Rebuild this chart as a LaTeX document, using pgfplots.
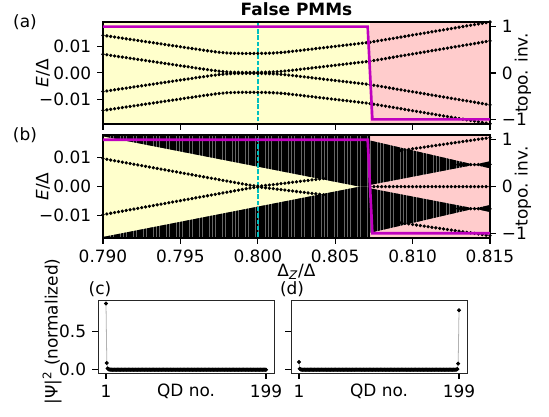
\documentclass[border=0pt]{standalone}
\usepackage{pgfplots}
\pgfplotsset{compat=1.18}
\usepackage{pgfplotstable}
\usepackage{fontspec}
\setmainfont{DejaVu Sans}
\usetikzlibrary{patterns.meta}
\definecolor{ybg}{RGB}{255,255,204}
\definecolor{pbg}{RGB}{255,204,204}
\definecolor{mplm}{RGB}{191,0,191}
\definecolor{mplc}{RGB}{0,191,191}

% panel (a): two pairs of levels (+/-)
\pgfplotstableread{
x e1 e2
0.79000 0.00700 0.01410
0.79025 0.00679 0.01389
0.79050 0.00657 0.01367
0.79075 0.00636 0.01346
0.79100 0.00614 0.01324
0.79125 0.00593 0.01303
0.79150 0.00571 0.01281
0.79175 0.00550 0.01260
0.79200 0.00528 0.01238
0.79225 0.00507 0.01217
0.79250 0.00485 0.01195
0.79275 0.00464 0.01174
0.79300 0.00442 0.01152
0.79325 0.00421 0.01131
0.79350 0.00399 0.01109
0.79375 0.00378 0.01088
0.79400 0.00356 0.01066
0.79425 0.00335 0.01045
0.79450 0.00313 0.01023
0.79475 0.00292 0.01002
0.79500 0.00270 0.00980
0.79525 0.00249 0.00959
0.79550 0.00227 0.00937
0.79575 0.00206 0.00916
0.79600 0.00184 0.00894
0.79625 0.00163 0.00873
0.79650 0.00142 0.00852
0.79675 0.00121 0.00831
0.79700 0.00101 0.00811
0.79725 0.00082 0.00792
0.79750 0.00065 0.00775
0.79775 0.00050 0.00760
0.79800 0.00038 0.00748
0.79825 0.00030 0.00740
0.79850 0.00025 0.00735
0.79875 0.00022 0.00732
0.79900 0.00020 0.00730
0.79925 0.00019 0.00729
0.79950 0.00019 0.00729
0.79975 0.00020 0.00730
0.80000 0.00021 0.00731
0.80025 0.00023 0.00733
0.80050 0.00026 0.00736
0.80075 0.00030 0.00740
0.80100 0.00036 0.00746
0.80125 0.00044 0.00754
0.80150 0.00055 0.00765
0.80175 0.00068 0.00778
0.80200 0.00083 0.00793
0.80225 0.00099 0.00809
0.80250 0.00116 0.00826
0.80275 0.00133 0.00843
0.80300 0.00150 0.00860
0.80325 0.00167 0.00877
0.80350 0.00184 0.00894
0.80375 0.00201 0.00911
0.80400 0.00218 0.00928
0.80425 0.00235 0.00945
0.80450 0.00252 0.00962
0.80475 0.00269 0.00979
0.80500 0.00286 0.00996
0.80525 0.00303 0.01013
0.80550 0.00320 0.01030
0.80575 0.00337 0.01047
0.80600 0.00354 0.01064
0.80625 0.00371 0.01081
0.80650 0.00388 0.01098
0.80675 0.00405 0.01115
0.80700 0.00422 0.01132
0.80725 0.00440 0.01150
0.80750 0.00465 0.01175
0.80775 0.00489 0.01199
0.80800 0.00514 0.01224
0.80825 0.00538 0.01248
0.80850 0.00563 0.01273
0.80875 0.00587 0.01297
0.80900 0.00612 0.01322
0.80925 0.00636 0.01346
0.80950 0.00661 0.01371
0.80975 0.00685 0.01395
0.81000 0.00710 0.01420
0.81025 0.00734 0.01444
0.81050 0.00759 0.01469
0.81075 0.00783 0.01493
0.81100 0.00808 0.01518
0.81125 0.00832 0.01542
0.81150 0.00857 0.01567
0.81175 0.00881 0.01591
0.81200 0.00906 0.01616
0.81225 0.00930 0.01640
0.81250 0.00955 0.01665
0.81275 0.00979 0.01689
0.81300 0.01004 0.01714
0.81325 0.01028 0.01738
0.81350 0.01053 0.01763
0.81375 0.01077 0.01787
0.81400 0.01102 0.01812
0.81425 0.01126 0.01836
0.81450 0.01151 0.01861
0.81475 0.01175 0.01885
0.81500 0.01200 0.01910
}\tabA

% panel (b): in-gap pair
\pgfplotstableread{
x em
0.79000 0.00960
0.79025 0.00936
0.79050 0.00912
0.79075 0.00888
0.79100 0.00864
0.79125 0.00840
0.79150 0.00816
0.79175 0.00792
0.79200 0.00768
0.79225 0.00744
0.79250 0.00720
0.79275 0.00696
0.79300 0.00672
0.79325 0.00648
0.79350 0.00624
0.79375 0.00600
0.79400 0.00576
0.79425 0.00552
0.79450 0.00528
0.79475 0.00504
0.79500 0.00480
0.79525 0.00456
0.79550 0.00432
0.79575 0.00408
0.79600 0.00384
0.79625 0.00360
0.79650 0.00336
0.79675 0.00312
0.79700 0.00288
0.79725 0.00264
0.79750 0.00240
0.79775 0.00216
0.79800 0.00192
0.79825 0.00168
0.79850 0.00144
0.79875 0.00120
0.79900 0.00096
0.79925 0.00072
0.79950 0.00050
0.79975 0.00030
0.80000 0.00015
0.80025 0.00025
0.80050 0.00040
0.80075 0.00055
0.80100 0.00070
0.80125 0.00086
0.80150 0.00102
0.80175 0.00118
0.80200 0.00134
0.80225 0.00150
0.80250 0.00166
0.80275 0.00182
0.80300 0.00198
0.80325 0.00214
0.80350 0.00230
0.80375 0.00246
0.80400 0.00262
0.80425 0.00278
}\tabB

% panel (b): levels in the topological (pink) region
\pgfplotstableread{
x et ez ec
0.80725 nan 0.00000 nan
0.80750 nan 0.00000 nan
0.80775 nan 0.00000 nan
0.80800 nan 0.00000 nan
0.80825 nan 0.00000 nan
0.80850 nan 0.00000 nan
0.80875 nan 0.00000 nan
0.80900 0.01220 0.00000 nan
0.80925 0.01239 0.00000 nan
0.80950 0.01258 0.00000 nan
0.80975 0.01278 0.00000 nan
0.81000 0.01297 0.00000 nan
0.81025 0.01316 0.00000 nan
0.81050 0.01335 0.00000 nan
0.81075 0.01354 0.00000 nan
0.81100 0.01373 0.00000 nan
0.81125 0.01393 0.00000 nan
0.81150 0.01412 0.00000 nan
0.81175 0.01431 0.00000 nan
0.81200 0.01450 0.00000 nan
0.81225 0.01469 0.00000 nan
0.81250 0.01488 0.00000 nan
0.81275 0.01508 0.00000 0.00752
0.81300 0.01527 0.00000 0.00753
0.81325 0.01546 0.00000 0.00754
0.81350 0.01565 0.00000 0.00755
0.81375 0.01584 0.00000 0.00756
0.81400 0.01603 0.00000 0.00757
0.81425 0.01623 0.00000 0.00758
0.81450 0.01642 0.00000 0.00759
0.81475 0.01661 0.00000 0.00760
0.81500 0.01680 0.00000 0.00761
}\tabC

\pgfplotsset{
  common/.style={scale only axis, anchor=north west, tick align=outside,
    major tick length=3.8pt, every tick/.style={black, line width=0.75pt},
    axis line style={line width=0.75pt}, scaled ticks=false,
    clip mode=individual},
  dots/.style={only marks, mark=*, mark size=0.85pt, black, forget plot},
  blk/.style={draw=none, fill=black!60, forget plot,
    postaction={pattern={Lines[angle=90,distance=2.1pt,line width=1.65pt]}, pattern color=black}},
  cyd/.style={draw=mplc, line width=1pt, dash pattern=on 2.8pt off 1.2pt, forget plot},
}

\begin{document}
\fontsize{10.8}{13}\selectfont
\begin{tikzpicture}
\path[use as bounding box] (0pt,0pt) rectangle (350pt,-265.84pt);

% ---------- (a) left ----------
\begin{axis}[common, at={(65.66pt,-14.03pt)}, width=246.72pt, height=65.03pt,
  xmin=0.790, xmax=0.815, ymin=-0.0192, ymax=0.0191,
  xtick={0.790,0.795,0.800,0.805,0.810,0.815}, xticklabels={,,,,,},
  ytick={-0.01,0,0.01}, yticklabels={−0.01,0.00,0.01},
  xtick pos=left, ytick pos=left, axis on top,
  ylabel={\textit{E}/Δ}, ylabel style={at={(axis description cs:-0.155,0.5)}, anchor=center}]
\addplot[fill=ybg, draw=none, forget plot] coordinates {(0.790,-0.03)(0.80725,-0.03)(0.80725,0.03)(0.790,0.03)} -- cycle;
\addplot[fill=pbg, draw=none, forget plot] coordinates {(0.80725,-0.03)(0.815,-0.03)(0.815,0.03)(0.80725,0.03)} -- cycle;
\addplot[cyd] coordinates {(0.800,-0.03)(0.800,0.03)};
\addplot[dots] table[x=x, y=e1] {\tabA};
\addplot[dots] table[x=x, y expr=-\thisrow{e1}] {\tabA};
\addplot[dots] table[x=x, y=e2] {\tabA};
\addplot[dots] table[x=x, y expr=-\thisrow{e2}] {\tabA};
\node[anchor=center] at (axis description cs:-0.2016,1) {(a)};
\node[anchor=base, font=\bfseries] at (axis description cs:0.5,1.06) {False PMMs};
\end{axis}

% ---------- (a) right ----------
\begin{axis}[common, at={(65.66pt,-14.03pt)}, width=246.72pt, height=65.03pt,
  xmin=0.790, xmax=0.815, ymin=-1.1, ymax=1.1,
  axis y line*=right, axis x line=none,
  ytick={-1,0,1}, yticklabels={−1,0,1},
  ylabel={topo. inv.}, ylabel style={at={(axis description cs:1.085,0.5)}, anchor=center}]
\addplot[mplm, line width=1.7pt] coordinates {(0.790,1)(0.8071,1)(0.8074,-1)(0.815,-1)};
\end{axis}

% ---------- (b) left ----------
\begin{axis}[common, at={(65.66pt,-86.06pt)}, width=246.72pt, height=65.66pt,
  xmin=0.790, xmax=0.815, ymin=-0.0176, ymax=0.0177,
  xtick={0.790,0.795,0.800,0.805,0.810,0.815},
  xticklabels={0.790,0.795,0.800,0.805,0.810,0.815},
  ytick={-0.01,0,0.01}, yticklabels={−0.01,0.00,0.01},
  xtick pos=left, ytick pos=left, axis on top,
  xlabel={Δ\textsubscript{\textit{Z}}/Δ}, xlabel style={at={(axis description cs:0.5,-0.33)}, anchor=center},
  ylabel={\textit{E}/Δ}, ylabel style={at={(axis description cs:-0.155,0.5)}, anchor=center}]
\addplot[fill=ybg, draw=none, forget plot] coordinates {(0.790,-0.03)(0.80725,-0.03)(0.80725,0.03)(0.790,0.03)} -- cycle;
\addplot[fill=pbg, draw=none, forget plot] coordinates {(0.80725,-0.03)(0.815,-0.03)(0.815,0.03)(0.80725,0.03)} -- cycle;
% bulk states (trivial region)
\addplot[blk] coordinates {(0.790,0.02)(0.790,0.01726)(0.8066,0)(0.80725,0)(0.80725,0.02)} -- cycle;
\addplot[blk] coordinates {(0.790,-0.02)(0.790,-0.01726)(0.8066,0)(0.80725,0)(0.80725,-0.02)} -- cycle;
% bulk states (topological region)
\addplot[blk] coordinates {(0.80725,0.0158)(0.8140,0.0075)(0.8150,0.0087)(0.8150,0.0063)(0.8140,0.0075)(0.80725,0.0006)} -- cycle;
\addplot[blk] coordinates {(0.80725,-0.0158)(0.8140,-0.0075)(0.8150,-0.0087)(0.8150,-0.0063)(0.8140,-0.0075)(0.80725,-0.0006)} -- cycle;
\addplot[cyd] coordinates {(0.800,-0.03)(0.800,0.03)};
\addplot[dots] table[x=x, y=em] {\tabB};
\addplot[dots] table[x=x, y expr=-\thisrow{em}] {\tabB};
\addplot[dots] table[x=x, y=et] {\tabC};
\addplot[dots] table[x=x, y expr=-\thisrow{et}] {\tabC};
\addplot[dots] table[x=x, y=ez] {\tabC};
\addplot[dots] table[x=x, y=ec] {\tabC};
\addplot[dots] table[x=x, y expr=-\thisrow{ec}] {\tabC};
\node[anchor=center] at (axis description cs:-0.2016,1) {(b)};
\end{axis}

% ---------- (b) right ----------
\begin{axis}[common, at={(65.66pt,-86.06pt)}, width=246.72pt, height=65.66pt,
  xmin=0.790, xmax=0.815, ymin=-1.1, ymax=1.1,
  axis y line*=right, axis x line=none,
  ytick={-1,0,1}, yticklabels={−1,0,1},
  ylabel={topo. inv.}, ylabel style={at={(axis description cs:1.085,0.5)}, anchor=center}]
\addplot[mplm, line width=1.7pt] coordinates {(0.790,1)(0.8071,1)(0.8074,-1)(0.815,-1)};
\end{axis}

% ---------- (c) ----------
\begin{axis}[common, at={(62.48pt,-191.25pt)}, width=112.2pt, height=46.54pt,
  axis line style={line width=0.6pt, black!85},
  xmin=-8.9, xmax=208.9, ymin=-0.0435, ymax=0.9135,
  xtick={1,199}, xticklabels={1,199}, ytick={0,0.5}, yticklabels={0.0,0.5},
  xtick pos=left, ytick pos=left,
  xlabel={QD no.}, xlabel style={at={(axis description cs:0.5,-0.325)}, anchor=base},
  ylabel={|Ψ|\textsuperscript{2} (normalized)}, ylabel style={at={(axis description cs:-0.261,0.568)}, anchor=center}]
\addplot[gray!60, line width=0.5pt, mark=*, mark size=1pt, mark options={black, fill=black}] coordinates {
(1,0.868)(2,0.088)(3,0.016)(4,0.005)(5,0.002)(6,0.001)(7,0)(8,0)(9,0)(10,0)
(11,0)(12,0)(13,0)(14,0)(15,0)(16,0)(17,0)(18,0)(19,0)(20,0)
(21,0)(22,0)(23,0)(24,0)(25,0)(26,0)(27,0)(28,0)(29,0)(30,0)
(31,0)(32,0)(33,0)(34,0)(35,0)(36,0)(37,0)(38,0)(39,0)(40,0)
(41,0)(42,0)(43,0)(44,0)(45,0)(46,0)(47,0)(48,0)(49,0)(50,0)
(51,0)(52,0)(53,0)(54,0)(55,0)(56,0)(57,0)(58,0)(59,0)(60,0)
(61,0)(62,0)(63,0)(64,0)(65,0)(66,0)(67,0)(68,0)(69,0)(70,0)
(71,0)(72,0)(73,0)(74,0)(75,0)(76,0)(77,0)(78,0)(79,0)(80,0)
(81,0)(82,0)(83,0)(84,0)(85,0)(86,0)(87,0)(88,0)(89,0)(90,0)
(91,0)(92,0)(93,0)(94,0)(95,0)(96,0)(97,0)(98,0)(99,0)(100,0)
(101,0)(102,0)(103,0)(104,0)(105,0)(106,0)(107,0)(108,0)(109,0)(110,0)
(111,0)(112,0)(113,0)(114,0)(115,0)(116,0)(117,0)(118,0)(119,0)(120,0)
(121,0)(122,0)(123,0)(124,0)(125,0)(126,0)(127,0)(128,0)(129,0)(130,0)
(131,0)(132,0)(133,0)(134,0)(135,0)(136,0)(137,0)(138,0)(139,0)(140,0)
(141,0)(142,0)(143,0)(144,0)(145,0)(146,0)(147,0)(148,0)(149,0)(150,0)
(151,0)(152,0)(153,0)(154,0)(155,0)(156,0)(157,0)(158,0)(159,0)(160,0)
(161,0)(162,0)(163,0)(164,0)(165,0)(166,0)(167,0)(168,0)(169,0)(170,0)
(171,0)(172,0)(173,0)(174,0)(175,0)(176,0)(177,0)(178,0)(179,0)(180,0)
(181,0)(182,0)(183,0)(184,0)(185,0)(186,0)(187,0)(188,0)(189,0)(190,0)
(191,0)(192,0)(193,0)(194,0)(195,0)(196,0)(197,0)(198,0)(199,0)};
\node[anchor=center] at (axis description cs:0.011,1.144) {(c)};
\end{axis}

% ---------- (d) ----------
\begin{axis}[common, at={(185.52pt,-191.25pt)}, width=112.2pt, height=46.54pt,
  axis line style={line width=0.6pt, black!85},
  xmin=-8.9, xmax=208.9, ymin=-0.0435, ymax=0.9135,
  xtick={1,199}, xticklabels={1,199}, ytick={0,0.5}, yticklabels={,},
  xtick pos=left, ytick pos=left,
  xlabel={QD no.}, xlabel style={at={(axis description cs:0.5,-0.325)}, anchor=base}]
\addplot[gray!60, line width=0.5pt, mark=*, mark size=1pt, mark options={black, fill=black}] coordinates {
(1,0.101)(2,0.012)(3,0.003)(4,0.001)(5,0)(6,0)(7,0)(8,0)(9,0)(10,0)
(11,0)(12,0)(13,0)(14,0)(15,0)(16,0)(17,0)(18,0)(19,0)(20,0)
(21,0)(22,0)(23,0)(24,0)(25,0)(26,0)(27,0)(28,0)(29,0)(30,0)
(31,0)(32,0)(33,0)(34,0)(35,0)(36,0)(37,0)(38,0)(39,0)(40,0)
(41,0)(42,0)(43,0)(44,0)(45,0)(46,0)(47,0)(48,0)(49,0)(50,0)
(51,0)(52,0)(53,0)(54,0)(55,0)(56,0)(57,0)(58,0)(59,0)(60,0)
(61,0)(62,0)(63,0)(64,0)(65,0)(66,0)(67,0)(68,0)(69,0)(70,0)
(71,0)(72,0)(73,0)(74,0)(75,0)(76,0)(77,0)(78,0)(79,0)(80,0)
(81,0)(82,0)(83,0)(84,0)(85,0)(86,0)(87,0)(88,0)(89,0)(90,0)
(91,0)(92,0)(93,0)(94,0)(95,0)(96,0)(97,0)(98,0)(99,0)(100,0)
(101,0)(102,0)(103,0)(104,0)(105,0)(106,0)(107,0)(108,0)(109,0)(110,0)
(111,0)(112,0)(113,0)(114,0)(115,0)(116,0)(117,0)(118,0)(119,0)(120,0)
(121,0)(122,0)(123,0)(124,0)(125,0)(126,0)(127,0)(128,0)(129,0)(130,0)
(131,0)(132,0)(133,0)(134,0)(135,0)(136,0)(137,0)(138,0)(139,0)(140,0)
(141,0)(142,0)(143,0)(144,0)(145,0)(146,0)(147,0)(148,0)(149,0)(150,0)
(151,0)(152,0)(153,0)(154,0)(155,0)(156,0)(157,0)(158,0)(159,0)(160,0)
(161,0)(162,0)(163,0)(164,0)(165,0)(166,0)(167,0)(168,0)(169,0)(170,0)
(171,0)(172,0)(173,0)(174,0)(175,0)(176,0)(177,0)(178,0)(179,0)(180,0)
(181,0)(182,0)(183,0)(184,0)(185,0)(186,0)(187,0)(188,0)(189,0)(190,0)
(191,0)(192,0)(193,0)(194,0)(195,0.001)(196,0.002)(197,0.008)(198,0.080)(199,0.780)};
\node[anchor=center] at (axis description cs:0.006,1.144) {(d)};
\end{axis}
\end{tikzpicture}
\end{document}
